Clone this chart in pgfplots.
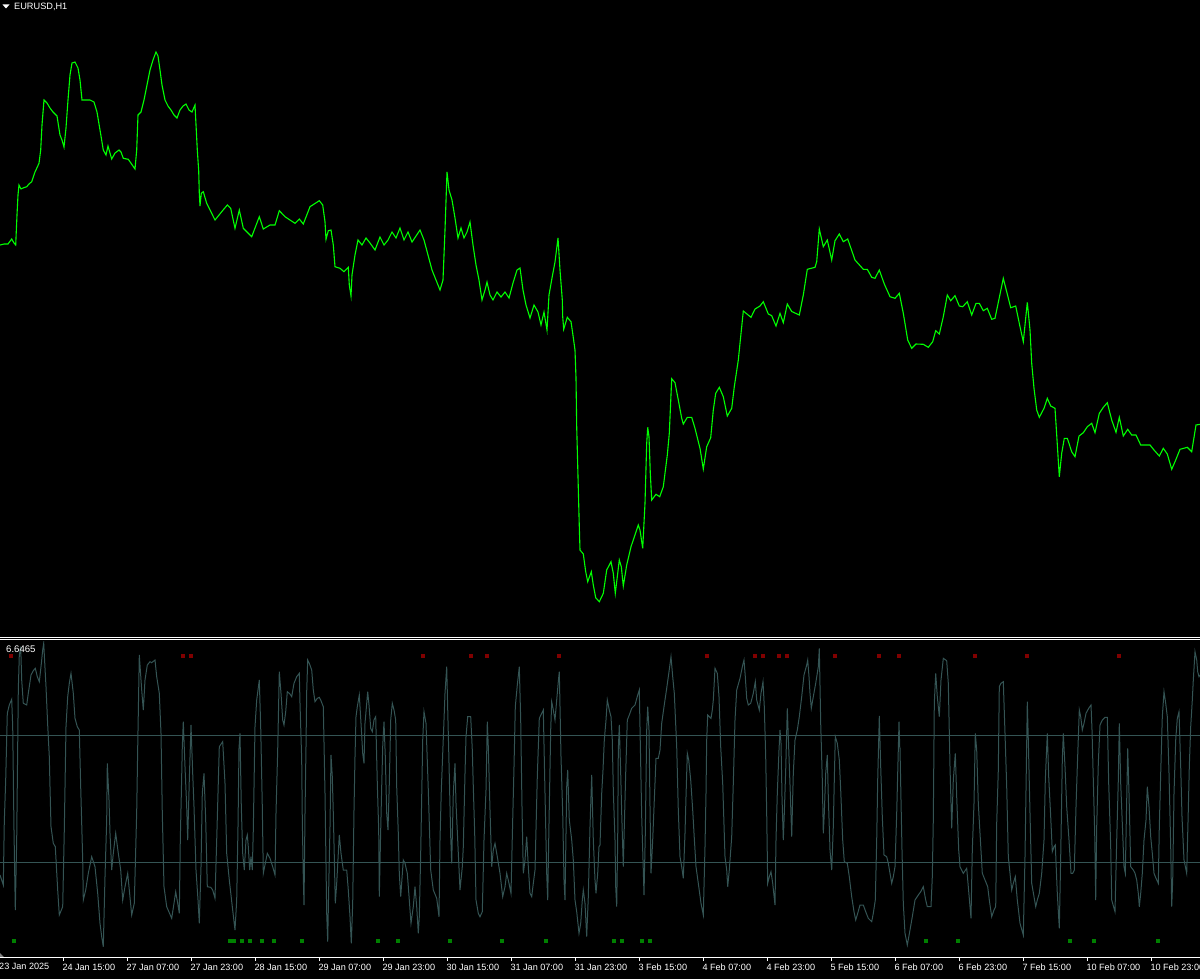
\documentclass[border=0pt]{standalone}
\usepackage{fontspec}
\setmainfont{Liberation Sans}
\usepackage{pgfplots}
\pgfplotsset{compat=1.18}
\definecolor{osc}{RGB}{52,84,84}
\definecolor{dred}{RGB}{128,0,0}
\definecolor{dgreen}{RGB}{0,128,0}
\definecolor{lime}{RGB}{0,255,0}
\begin{document}
\begin{tikzpicture}[x=1pt,y=1pt]
\useasboundingbox (0,0) rectangle (1200,-979);
\fill[black] (0,0) rectangle (1200,-979);
\begin{scope}
\clip (0,0) rectangle (1200,-979);
% title
\fill[white] (2.5,-4.5) -- (9.5,-4.5) -- (6,-8.5) -- cycle;
\node[anchor=base west, inner sep=0pt, text=white, font=\fontsize{9.2}{10}\selectfont] at (14,-10) {EURUSD,H1};
% separators
\draw[white, line width=1pt] (0,-637.5) -- (1200,-637.5);
\draw[white, line width=1pt] (0,-639.5) -- (1200,-639.5);
\fill[gray] (0,-953) -- (4,-957) -- (0,-957) -- cycle;
% ---------------- price panel
\begin{axis}[at={(0pt,0pt)}, anchor=north west, scale only axis,
  width=1200pt, height=636pt, xmin=0, xmax=1200, ymin=0, ymax=636,
  y dir=reverse, hide axis]
\addplot[lime, line width=1.1pt] coordinates {
(0,245)(4,244)(8,244)(11.7,239)(14,243)(15.7,245)(17,215)(18,195)(19,185)(21,189)(23,188)(26.7,186.7)(29,184)(31.7,181.7)(35,172)(39,163.3)(40.7,150)
(42,125)(44,100)(47,103)(50,108)(53,112)(57,116)(60,135)(62,140)(64,147)(66,128)(68,100)(70,75)(72,63)(75,62)(78,68)(80,80)(82,100)(86,100)(90,100)(94,102)(97,112)(100,130)(103.3,150)(106,155)(108,146)(111.7,159)(115,153)(119,150)(121,152)(123.3,158.3)(128.3,159.3)(135,169)(136.7,150)(138,115)(141,112)(144,100)(147,85)(150,70)(153,60)(156,52)(158,56)(160,70)(162,85)(165,100)(168,106)(171,110)(174,115)(177,118)(180,110)(183,106)(186,104)(189,110)(192,112)(195,105)
(197.3,150)(198.7,170.7)(199.3,193.3)(200,206)(201.3,193.3)(203.3,191.7)(206.7,203.3)(215,220)(221.7,211.7)(227.3,205)(230.7,208.3)(235,228.3)(239.3,210)(243.3,228.3)(251.7,236.7)(259.3,216.7)(263.3,229)(270,225)(275,225)(279.3,210.7)(285,216.7)(295,223.3)(299.3,219)(303.3,224)(310,206.7)(319.3,200.7)(322.7,205)(325,221.7)(326,239.3)(328.3,230.7)(331,230)(333.3,245)(335,266.7)(340,268.3)(344,271.7)(348.3,267.3)(349.3,285)
(351,296)(352,275)(355,255)(358,240)(362,245)(366,238)(370,243)(375,250)(380,237)(384,245)(388,240)(392,232)(396,238)(400,228)(404,240)(408,232)(412,242)(416,236)(420,230)(424,240)(428,255)(432,270)(436,280)(440,290)(443,280)(445,230)(447,172)(449,190)(452,200)(455,218)(458,238)(461,228)(464,238)(467,232)(470,222)(473,245)(476,265)(479,280)(482,300)(485,290)(487,282)(490,295)(493,300)(497,292)(501,297)(505,292)(509,298)(513,283)(517,270)(520,268)(523,290)(526,305)(530,318)(534,305)(538,312)(541,325)(544,312)(547,330)(549,295)(552,278)(555,262)(558,238)(560,270)
(562.3,300)(562.7,316.7)(563.7,329.3)(567.3,317.3)(571,321.7)(572.7,333.3)(575,350)(576,378)(576.7,426.7)(578,476.7)(579.3,526.7)(580,550)(583.3,554)(585.7,571.7)(587.7,581.7)(591.3,571.7)(593.3,585)(595.7,597.7)(599.3,601.7)(603.3,593.3)(606.7,570)(611,561.7)(613.3,573.3)(615.3,593.3)(619.3,560)(621.3,566.7)(623.3,586)(626.7,565)(631,546.7)(638.3,525)(640,530)(642.7,548.3)(645,503.3)(646.7,443.3)(647.7,427.3)(649,436.7)(650.3,473.3)(651.7,500)(656,494.3)(659.7,496.7)(663.3,486.7)(667.3,455)(669.3,433.3)(671.7,378.7)(675,382.7)(678.3,400)(681.7,418.3)(683.3,424)(687.3,417.3)(691.7,417.3)(695,428.3)(700,448.3)(703.3,469)(706.7,446.7)(710.7,437.7)(713.3,410)(715.7,393.3)(719.3,387.3)(723.3,396.7)(727.3,416)(731.7,408.3)(734.3,386.7)(738.3,360)(743.3,311)(751,317.3)(755,309)(760,306)(763.3,301.7)(768.3,314)(771.7,315.7)(776,326)(780,313.3)(783.3,322.7)(787.3,304)(791.7,311.5)(799.3,315)(803.3,295)(807.3,269.3)(815,267.3)(816.7,261.7)(819.3,229)
(823.3,246.7)(827.3,240)(831.7,260)(835,240.7)(839.3,234)(843.3,241.7)(847.7,239)(855,260)(863.3,269.3)(867.3,269.3)(871.7,277.3)(875,278.3)(879.3,270)(884.3,284)(890,296.7)(895,298.3)(899.3,293.3)(903.3,313.3)(907.7,340)(911.7,348.3)(916,344)(923.3,344.3)(928.3,347.3)(932.7,341.7)(935.7,330.7)(939.3,334)(943.3,316.7)(947.3,295)(950.7,300.7)(955,295.7)(959.3,306)(962.7,306.7)(967.3,301.7)(971.7,315)(976,303.3)(979.3,303.3)(983.3,310.7)(987.3,308.3)(991.7,319.3)(995,318.3)(1003.3,278.3)(1010.7,307.7)(1015.7,306)(1020,326.7)(1023.3,341.7)(1027.3,302.3)(1030,330)(1031.7,363.3)(1034,388.3)(1036.7,410)(1039.3,417.3)(1044,408.3)(1047.3,398.3)(1050.7,406)(1055,408.3)(1056.7,435)(1059.3,476.7)(1061.7,453.3)(1064.3,438.3)(1067.3,438.3)(1071.7,451.7)(1075,456.7)(1079,436)(1083.3,432.7)(1087.3,426.7)(1091.7,423.3)(1095,432.7)(1099.3,413.3)(1103.3,407.3)(1107.3,402.7)(1111.7,420)(1116,432.3)(1119.3,417.3)(1123.3,436)(1127.7,429.3)(1131.7,435)(1136,435)(1140.7,445)(1150,445)(1154,450)(1159.3,456)(1163.3,448.3)(1167.3,454)(1171.7,469.3)(1176,459.3)(1180,449.3)(1187.3,447.3)(1191.7,451.7)(1193.3,441.7)(1196,425)(1200,424.3)
};
\end{axis}
% ---------------- oscillator panel
\begin{axis}[at={(0pt,-641pt)}, anchor=north west, scale only axis,
  width=1200pt, height=316.5pt, xmin=0, xmax=1200, ymin=641, ymax=957.5,
  y dir=reverse, hide axis]
\addplot[osc, line width=1pt] coordinates {(0,735)(1200,735)};
\addplot[osc, line width=1pt] coordinates {(0,862)(1200,862)};
\addplot[osc, line width=1pt] coordinates {
(0,875)(3.3,885)(4.3,821.7)(5.7,780)(7.3,713.3)(9.3,705)(11.7,699.3)(12.7,726.7)(14,830)(15.3,910)(16.7,840)(18.3,690)(19.3,655)(20.7,646.7)(21.7,680)(23.3,703.3)(26.7,705)(28.3,693.3)(31,675)(33.3,670.7)(35.3,668.3)(37.3,676.7)(39.3,681.7)(41,666.7)(42.7,650)(43.7,643.3)(46,686.7)(47.7,725)(49.3,756.7)(50,786.7)(51,826.7)(53.3,843.3)(55.3,846.7)(57.7,890)(59.3,915)(62.7,906.7)(64.3,830)(66,726.7)(67.7,696.7)(69.3,683.3)(71,673.3)(73.3,693.3)(75,718.3)(77.3,726.7)(79.3,730)(80.7,786.7)(82.7,860)(83.3,900)(85.7,890)(88.3,873.3)(91.7,856.7)(95,866.7)(97.7,893.3)(100,923.3)(101.7,936.7)(103.3,946.7)(105,876.7)(106.7,820)(107.3,763.3)(109,800)(110,833.3)(111.7,870)(113.3,853.3)(115.7,833.3)(118.3,853.3)(120.7,870)(122.7,900)(125,886.7)(127.7,873.3)(129.3,890)(131.7,915)(134.3,903.3)(136.7,811.7)(137.7,748.3)(139.3,655)(141.7,690)(143.3,710)(145,680)(147.3,665)(150,661.7)(151.7,662.7)(155,660)(156.7,676.7)(159.3,693.3)(161,733.3)(162.3,813.3)(164,886.7)(166.7,906.7)(171.7,918.3)(174,903.3)(175.7,891.7)(177.7,903.3)(179.3,913.3)(180.3,840)(181.3,795)(182.3,746.7)(183.3,721.7)(185,766.7)(186.7,806.7)(187.7,840)(189.3,780)(191,725)(192.7,773.3)(194,806.7)(196,870)(198,900)(199.3,923.3)(201,866.7)(202.3,793.3)(204,773.3)(205.7,820)(207.3,886.7)(210.7,887.3)(212.7,890)(215,898.3)(216.7,840)(219.3,746.7)(222.7,741.7)(225,783.3)(226.7,853.3)(229.3,880)(232.3,906.7)(235,930)(236.7,900)(238,826.7)(239,748.3)(240,733.3)(241.3,806.7)(242.7,853.3)(244.3,870)(246,840)(247.3,835)(248.3,846.7)(249.7,870)(251,856.7)(252.3,870)(253.3,830)(255,726.7)(256.7,700)(259.3,680)(260.7,726.7)(262.3,806.7)(263.3,873.3)(265.3,863.3)(267.3,853.3)(270,858.3)(272.7,866.7)(275,875)(276,813.3)(277.7,750)(279.3,671.7)(281,693.3)(282.7,720)(284,725)(285.7,711.7)(287.3,691.7)(290,694)(291.7,696.7)(294,683.3)(296.7,676.7)(299.3,673.3)(300,703.3)
(301.7,760)(302.3,820)(303.3,876.7)(304,905)(305,813.3)(306,746.7)(306.7,691.7)(307.7,660)(309.3,663.3)(311.7,670)(313.3,690)(315,701.7)(317.3,698.3)(319.3,697.3)(320.7,700)(323.3,706.7)(325,793.3)(326.7,913.3)(327.7,941.7)(329,873.3)(330,826.7)(331,755)(332.3,776.7)(333.3,813.3)(334.3,856.7)(335.3,903.3)(336.7,883.3)(338.3,853.3)(339.3,835)(341,853.3)(343.3,870)(346.7,870)(348.3,890)(350,916.7)(351.3,943.3)(352.7,903.3)(354,810)(355,756.7)(356,716.7)(357.3,706.7)(359.3,695)(361,723.3)(362.7,753.3)(364,763.3)(365,723.3)(366.7,703.3)(367.7,691.7)(369,705)(370.7,728.3)(372.3,731.7)(374,720)(375.7,716.7)(377.3,783.3)(378.7,830)(379.3,896.7)(380.7,830)(381.7,786.7)(382.7,746.7)(384,721.7)(385.3,756.7)(386.7,813.3)(388,830)(389.3,783.3)(390.7,720)(392.3,703.3)(394,710)(395.7,720)(396.7,786.7)(398.3,833.3)(399.3,873.3)(400.7,896.7)(403.3,860)(405,863.3)(407.3,873.3)(409.3,900)(411,923.3)(413.3,906.7)(415,886.7)(416.7,906.7)(418.3,933.3)(419.3,916.7)(420.7,853.3)(421.7,796.7)(422.7,740)(424,711.7)(426,723.3)(428.3,790)(430.7,870)(433.3,890)(436.7,898.3)(439,916.7)(440,840)(441.3,790)(443.3,738.3)(445,693.3)(446.7,666.7)(448.7,750)(450.7,836.7)(451.7,863.3)(453.3,793.3)(455,763.3)(456,803.3)(457.7,840)(460,890)(462.3,866.7)(463.3,846.7)(465,773.3)(466,736.7)(467.7,716.7)(470.7,716.7)(472.3,750)(473.3,786.7)(474.7,833.3)(476,900)(478.3,913.3)(480,916.7)(482.3,911.7)(484,840)(486,790)(487.3,721.7)(488.3,746.7)(490,810)(491.7,866.7)(493.3,850)(495,843.3)(497.3,856.7)(500,873.3)(502.7,896.7)(505,886.7)(506.7,873.3)(509,883.3)(511,893.3)(512.7,820)(514,766.7)(515.3,706.7)(517.3,685)(519.3,666.7)(520.7,720)(522,806.7)(523.3,873.3)(525,860)(526.7,836.7)(528.3,866.7)(530,893.3)(531.7,896.7)(533.3,883.3)(535,870)(537.3,776.7)(539.3,718.3)(543.3,710)(545,793.3)(546.7,873.3)(547.7,900)(549,823.3)(550.7,730)(551.7,701.7)(553.3,710)(555,720)(556.7,700)(558.3,681.7)(559.3,671.7)(561,756.7)(562.7,813.3)(564,880)(565,900)(566.7,786.7)(567.7,770)(569.3,820)(571.7,840)(573.3,860)(575,900)(576.7,911.7)(579,933.3)(580.7,923.3)(582.3,900)(583.3,890)(585,903.3)(586.7,936.7)(588.3,896.7)(590,826.7)(591.7,775)(593.3,840)(595,880)(596,893.3)(597.7,873.3)(599,846.7)(600,845)
(601.7,793.3)(603,770)(604.3,740)(606,720)(607.3,700)(609.3,710)(611,716.7)(612.3,740)(613.3,790)(615,840)(615.7,886.7)(616.7,906.7)(617.7,840)(618.3,750)(619.3,725)(620.7,773.3)(621.7,813.3)(623.3,866.7)(624.3,826.7)(625.7,773.3)(627.3,720)(629.3,715)(631.7,708.3)(635,705)(637.7,695)(639.3,690)(640.3,743.3)(641.7,816.7)(643.3,870)(644,895)(645.3,833.3)(646.7,730)(647.7,706.7)(649,730)(650,806.7)(651,873.3)(652.7,840)(654.3,800)(656,758.3)(658.3,758.3)(660,750)(661.7,723.3)(664,706.7)(666.7,688.3)(669,671.7)(671,656.7)(672.7,676.7)(674.3,693.3)(676.7,746.7)(678.3,810)(680,856.7)(681.7,866.7)(683.3,878.3)(685,833.3)(686,796.7)(687.3,753.3)(688.7,760)(690.7,780)(692.7,810)(694,833.3)(696,866.7)(698.3,883.3)(701,903.3)(703.3,915)(705,846.7)(706,793.3)(706.7,740)(707.7,715)(711,718.3)(712.3,710)(713.3,700)(715,668.3)(717.3,673.3)(719,696.7)(720.7,746.7)(722.7,783.3)(725,856.7)(726.7,870)(727.7,886.7)(729.3,870)(731.7,836.7)(733.3,783.3)(735,720)(736.7,690)(740,678.3)(742.7,665)(744,660)(745.3,676.7)(746.7,698.3)(748.3,705)(750.7,703.3)(753.3,693.3)(755.3,681.7)(756.7,700)(759.3,710)(761,693.3)(763,681.7)(764.3,706.7)(765.7,756.7)(766.7,813.3)(767.7,883.3)(769.3,876.7)(771,871.7)(772.7,883.3)(775,905)(776,840)(777.3,793.3)(779,750)(780,730)(781,743.3)(782,796.7)(783.3,840)(784.3,813.3)(785.7,770)(787.3,708.3)(789,756.7)(790.3,793.3)(791.7,836.7)(793.3,773.3)(795,740)(797.3,730)(799.3,716.7)(801.7,696.7)(804,675)(806.7,665)(807.7,660)(809,676.7)(810,693.3)(811.3,708.3)(813.3,696.7)(815.7,683.3)(818.3,666.7)(819.3,648.3)(820.7,723.3)(822.3,780)(823.3,833.3)(824.3,813.3)(825.7,773.3)(827.3,755)(828.3,796.7)(830,850)(831.7,870)(833.3,826.7)(834.3,780)(835.3,736.7)(837.3,743.3)(839.3,760)(840.7,790)(842.7,840)(844.3,861.7)(847.3,863.3)(849.3,876.7)(851.7,896.7)(854,911.7)(855.7,920)(857.7,913.3)(860,905)(863.3,905)(865.7,911.7)(868.3,918.3)(871.7,921.7)(873.3,913.3)(875.3,900)(876.7,840)(877.7,780)(879.3,716)(880.7,766.7)(882.3,816.7)(884,855)(886.7,856.7)(888.3,863.3)(890,873.3)(891.7,883.3)(893.3,876.7)(895,866.7)(896.7,813.3)(897.7,773.3)(899,721.7)(899.7,746.7)(900,748.3)
(901,800)(902,850)(903.3,903.3)(905,933.3)(907.3,945)(910,930)(912.3,916.7)(915,900)(918.3,895)(920.7,891.7)(923.3,886.7)(925.7,900)(927.3,906.7)(931,906.7)(932.3,876.7)(933.3,820)(934.3,703.3)(935.7,673.3)(937.3,696.7)(939.3,716.7)(941,680)(943.3,658.3)(946.7,660.7)(948.3,683.3)(950,766.7)(951.7,828.3)(953.3,780)(955.3,753.3)(956.7,796.7)(958.7,850)(960,866.7)(963.3,873.3)(966.7,868.3)(968.3,886.7)(971,918.3)(972.3,850)(974,803.3)(975.3,733.3)(976.7,750)(978.3,803.3)(980,833.3)(982.3,873.3)(985,880)(987.7,886.7)(989.3,900)(991.7,916.7)(994,910)(995.7,906.7)(996.7,823.3)(998.3,770)(999.3,686.7)(1001,683.3)(1003.3,681.7)(1005,733.3)(1006.7,786.7)(1008.3,856.7)(1010,873.3)(1011.7,890)(1013.3,883.3)(1015.3,876.7)(1017.3,900)(1020,923.3)(1023.3,935)(1025,856.7)(1026,790)(1027.3,701.7)(1028.3,740)(1030,813.3)(1031.7,883.3)(1034,896.7)(1035.7,906.7)(1037.3,900)(1039.3,893.3)(1041.7,873.3)(1044,840)(1045.3,780)(1047.3,733.3)(1048.7,776.7)(1050.7,816.7)(1052.3,851.7)(1054,846.7)(1055.3,845)(1057.3,893.3)(1059.3,928.3)(1060.7,856.7)(1062.3,760)(1063.3,733.3)(1065,766.7)(1066.7,806.7)(1069,840)(1071,873.3)(1072.7,873.3)(1074.3,870)(1076,806.7)(1077.3,766.7)(1079.3,710)(1080.7,716.7)(1082.3,730)(1084,723.3)(1086,713.3)(1088.7,708.3)(1091,705)(1092,730)(1093.3,780)(1094.7,833.3)(1095.7,900)(1096.7,826.7)(1098.3,763.3)(1100,725)(1102.3,720)(1105,717.3)(1107.3,717.3)(1108.7,783.3)(1110.7,846.7)(1111.7,900)(1115,911.7)(1116.7,840)(1118.3,780)(1119.3,723.3)(1120.7,783.3)(1122.3,823.3)(1124,866.7)(1125.3,873.3)(1126.7,800)(1127.7,748.3)(1129,793.3)(1130.7,866.7)(1133.3,870)(1135,873.3)(1136.7,880)(1138.3,893.3)(1139.3,906.7)(1140.7,893.3)(1142.3,873.3)(1144,840)(1146,820)(1147.3,786.7)(1149,806.7)(1150.7,836.7)(1152.3,853.3)(1154,873.3)(1156,878.3)(1158.3,883.3)(1159.3,826.7)(1160.7,773.3)(1162.3,716.7)(1164,691.7)(1165.7,703.3)(1167.3,716.7)(1169,773.3)(1170.7,846.7)(1171.7,906.7)(1172.7,880)(1174,793.3)(1175.7,740)(1177.3,718.3)(1179,711.7)(1180.7,766.7)(1182,816.7)(1184,860)(1186.7,873.3)(1188.3,810)(1189.3,766.7)(1190.7,726.7)(1192.3,700)(1193.3,680)(1195,651.7)(1196.7,660)(1197.7,671.7)(1199,676.7)(1200,675)
};
\addplot[only marks, mark=square*, mark size=1.5pt, dred, mark options={draw=dred, fill=dred}] coordinates {
(11,656)(183,656)(191,656)(423,656)(471,656)(487,656)(559,656)(707,656)(755,656)(763,656)(779,656)(787,656)(835,656)(879,656)(899,656)(975,656)(1027,656)(1119,656)
};
\addplot[only marks, mark=square*, mark size=1.5pt, dgreen, mark options={draw=dgreen, fill=dgreen}] coordinates {
(14,941)(230,941)(234,941)(242,941)(250,941)(262,941)(274,941)(302,941)(378,941)(398,941)(450,941)(502,941)(546,941)(614,941)(622,941)(642,941)(650,941)(926,941)(958,941)(1070,941)(1094,941)(1158,941)
};
\end{axis}
% ---------------- time axis
\begin{axis}[at={(0pt,-957.5pt)}, anchor=south west, scale only axis,
  width=1200pt, height=20pt, xmin=0, xmax=1200, ymin=0, ymax=1,
  axis x line*=bottom, axis y line=none,
  axis line style={white, line width=1pt, -},
  xtick={63.3,127.3,191.3,255.3,319.3,383.3,447.3,511.3,575.3,639.3,703.3,767.3,831.3,895.3,959.3,1023.3,1087.3,1151.3},
  xticklabels={24 Jan 15:00,27 Jan 07:00,27 Jan 23:00,28 Jan 15:00,29 Jan 07:00,29 Jan 23:00,30 Jan 15:00,31 Jan 07:00,31 Jan 23:00,3 Feb 15:00,4 Feb 07:00,4 Feb 23:00,5 Feb 15:00,6 Feb 07:00,6 Feb 23:00,7 Feb 15:00,10 Feb 07:00,10 Feb 23:00},
  tick style={white, line width=1pt}, major tick length=3.5pt, tick align=outside,
  xticklabel style={font=\fontsize{9.1}{10}\selectfont, text=white, anchor=north west, inner sep=0pt, xshift=-1pt, yshift=-3pt},
  clip=false]
\addplot[draw=none] coordinates {(0,0)(1200,1)};
\end{axis}
\node[anchor=north west, inner sep=0pt, text=white, font=\fontsize{9.1}{10}\selectfont] at (-1,-962.5) {23 Jan 2025};
\node[anchor=base west, inner sep=0pt, text=white, font=\fontsize{9.6}{10}\selectfont] at (6,-652.5) {6.6465};
\end{scope}
\end{tikzpicture}
\end{document}
